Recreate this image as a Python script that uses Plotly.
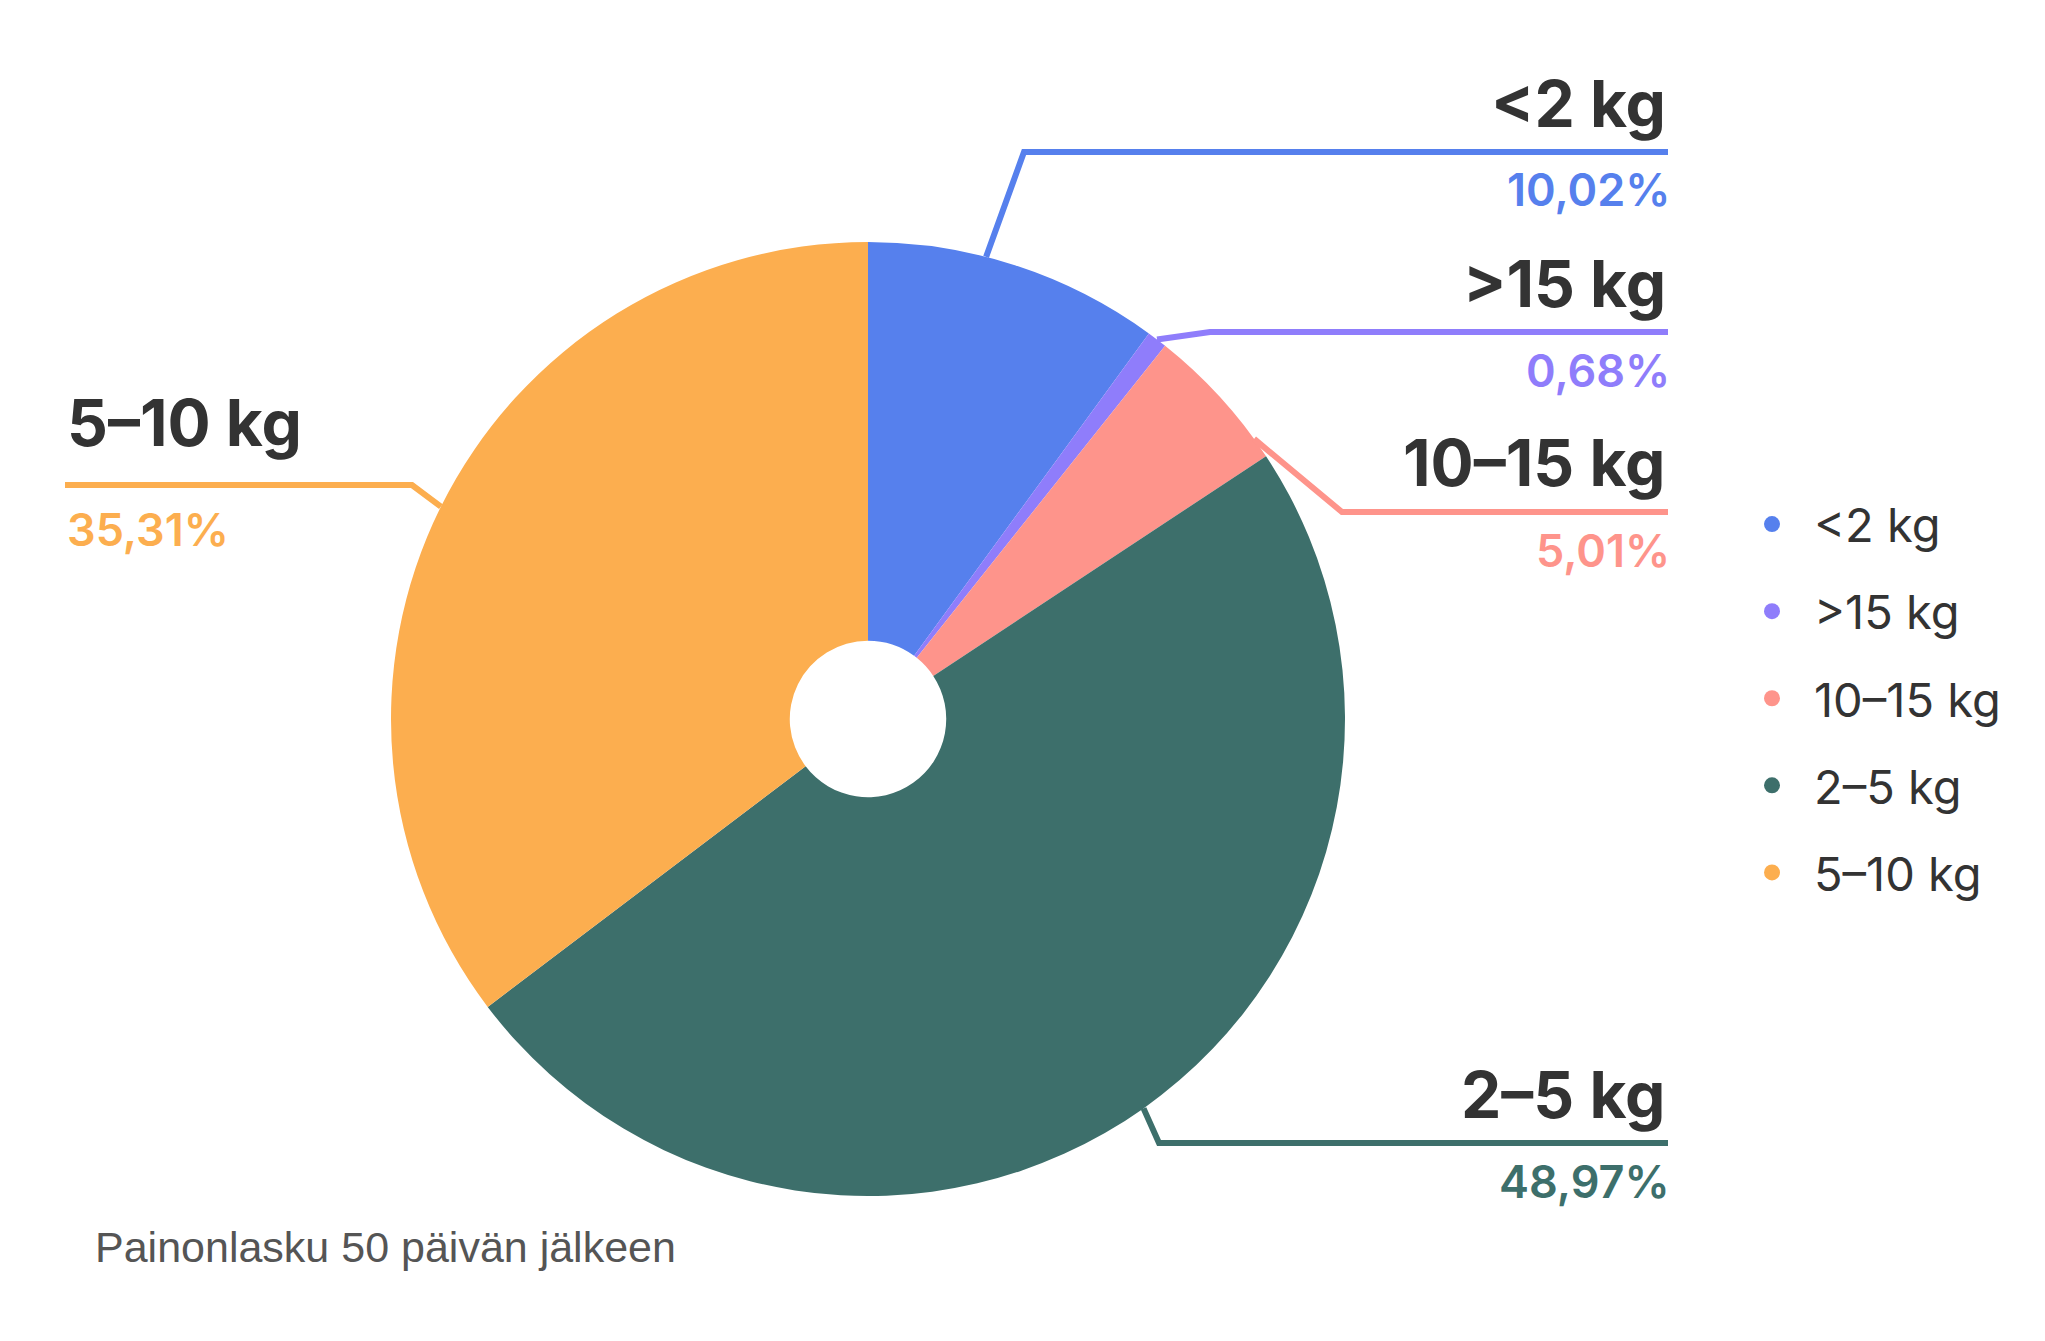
import numpy as np
import plotly.graph_objects as go

# data
labels = ['<2 kg', '>15 kg', '10–15 kg', '2–5 kg', '5–10 kg']
values = [10.02, 0.68, 5.01, 48.97, 35.31]
pct_text = ['10,02%', '0,68%', '5,01%', '48,97%', '35,31%']
colors = ['#5680ED', '#8F7DFB', '#FE948B', '#3D6F6B', '#FCAE4F']
footnote = 'Painonlasku 50 päivän jälkeen'

W, H = 2045, 1341
cx, cy, r = 860, 711, 477          # pie centre / radius in px

# label layout (px): elbow of leader, side, small angle nudge like the original label placer
elbows = [(1016, 144), (1202, 324), (1334, 504), (1151, 1135), (404, 477)]
sides = ['right', 'right', 'right', 'right', 'left']
nudge = [-3.7, 0, 6.5, 0, 0]
right_end, left_end = 1660, 57

def px(x, y):
    return x / W, 1 - y / H

fig = go.Figure()
fig.add_trace(go.Pie(
    labels=labels, values=values, sort=False, direction='clockwise', rotation=0,
    hole=0.164, textinfo='none', showlegend=False,
    marker=dict(colors=colors, line=dict(width=0)),
    domain=dict(x=[(cx - r) / W, (cx + r) / W], y=[1 - (cy + r) / H, 1 - (cy - r) / H]),
))

# legend with round dots
for lab, col in zip(labels, colors):
    fig.add_trace(go.Scatter(x=[None], y=[None], mode='markers', name=lab, legendgroup=lab,
                             marker=dict(color=col, size=16, symbol='circle')))

tot = sum(values)
cum = np.cumsum([0] + values[:-1]) / tot
for i in range(len(values)):
    ang = np.radians((cum[i] + values[i] / tot / 2) * 360 + nudge[i])
    sx, sy = cx + r * np.sin(ang), cy - r * np.cos(ang)
    ex, ey = elbows[i]
    end = right_end if sides[i] == 'right' else left_end
    p0, p1, p2 = px(sx, sy), px(ex, ey), px(end, ey)
    fig.add_shape(type='path', xref='paper', yref='paper',
                  path=f'M {p0[0]} {p0[1]} L {p1[0]} {p1[1]} L {p2[0]} {p2[1]}',
                  line=dict(color=colors[i], width=6))
    anchor = 'right' if sides[i] == 'right' else 'left'
    gap_t, gap_p = (49, 38) if sides[i] == 'right' else (62, 44)
    tx, ty = px(end, ey - gap_t)
    fig.add_annotation(x=tx, y=ty, xref='paper', yref='paper', text=labels[i], showarrow=False,
                       xanchor=anchor, yanchor='middle',
                       font=dict(family='Inter', size=64, color='#333333', weight=700))
    pct_x = end + 4 if sides[i] == 'right' else end
    tx, ty = px(pct_x, ey + gap_p)
    fig.add_annotation(x=tx, y=ty, xref='paper', yref='paper', text=pct_text[i], showarrow=False,
                       xanchor=anchor, yanchor='middle',
                       font=dict(family='Inter', size=45, color=colors[i], weight=600))

fig.add_annotation(x=85 / W, y=1 - 1239 / H, xref='paper', yref='paper', text=footnote,
                   showarrow=False, xanchor='left', yanchor='middle',
                   font=dict(family='Liberation Sans', size=43, color='#555555'))

fig.update_layout(
    width=W, height=H,
    margin=dict(l=0, r=0, t=0, b=0),
    paper_bgcolor='white', plot_bgcolor='white',
    xaxis=dict(visible=False), yaxis=dict(visible=False),
    legend=dict(x=1722 / W, y=1 - 479 / H, xanchor='left', yanchor='top',
                itemwidth=74, tracegroupgap=23,
                font=dict(family='Inter', size=47, color='#333333')),
)

fig.write_html('out.html')
